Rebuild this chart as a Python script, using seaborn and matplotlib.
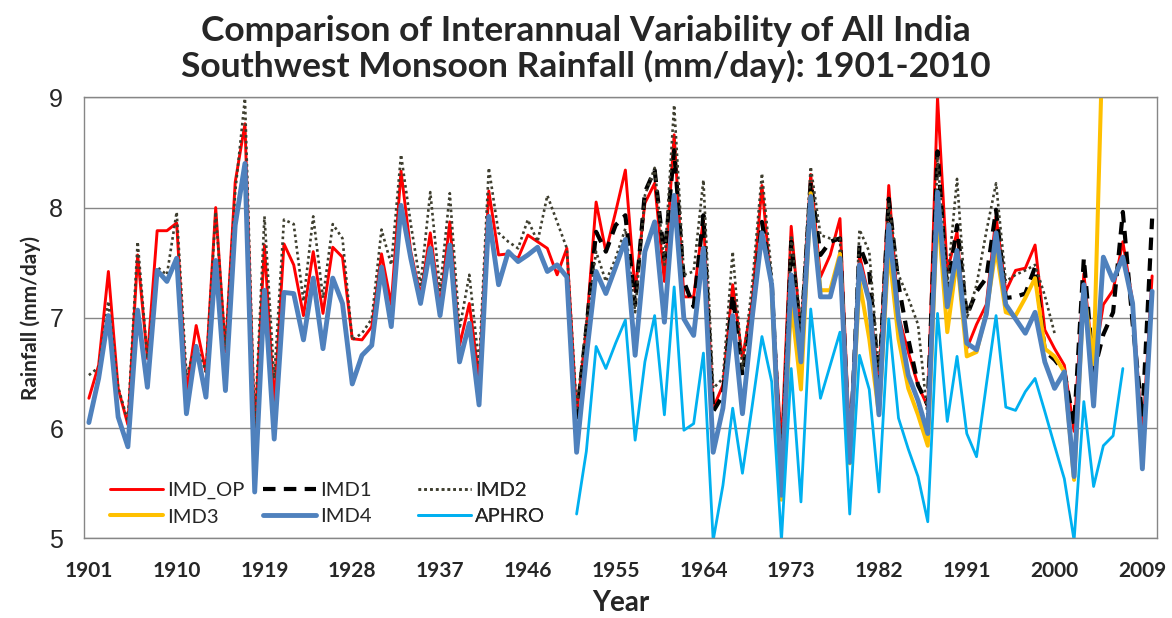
import numpy as np
import pandas as pd
import seaborn as sns
import matplotlib.pyplot as plt
from matplotlib.lines import Line2D

# ---- data (mm/day) ----
years_all = list(range(1901, 2011))

imd_op = [6.27, 6.57, 7.42, 6.36, 6.03, 7.57, 6.63, 7.79, 7.79, 7.86,
          6.33, 6.93, 6.51, 8.00, 6.69, 8.23, 8.76, 5.95, 7.66, 6.21,
          7.67, 7.48, 7.02, 7.60, 7.04, 7.64, 7.55, 6.81, 6.80, 6.92,
          7.58, 7.12, 8.33, 7.60, 7.20, 7.77, 7.10, 7.87, 6.75, 7.13,
          6.45, 8.15, 7.57, 7.58, 7.54, 7.75, 7.69, 7.63, 7.39, 7.63,
          6.12, 6.90, 8.05, 7.60, 7.96, 8.34, 7.24, 8.04, 8.22, 7.33,
          8.66, 7.19, 7.19, 7.90, 6.18, 6.39, 7.30, 6.63, 7.15, 8.20,
          7.24, 5.84, 7.83, 6.84, 8.30, 7.37, 7.57, 7.90, 5.85, 7.57,
          7.18, 6.40, 8.20, 7.02, 6.69, 6.39, 6.19, 9.00, 7.42, 7.78,
          6.72, 6.94, 7.12, 7.92, 7.24, 7.43, 7.45, 7.66, 6.89, 6.72,
          6.57, 5.97, 7.40, 6.56, 7.12, 7.25, 7.69, 7.15, 5.90, 7.38]

imd4 = [6.05, 6.45, 7.02, 6.10, 5.83, 7.07, 6.37, 7.43, 7.33, 7.54,
        6.13, 6.74, 6.28, 7.52, 6.34, 7.84, 8.40, 5.42, 7.25, 5.90,
        7.23, 7.22, 6.80, 7.36, 6.72, 7.36, 7.13, 6.40, 6.66, 6.75,
        7.46, 6.92, 8.02, 7.54, 7.13, 7.63, 7.02, 7.66, 6.60, 6.95,
        6.21, 7.92, 7.30, 7.60, 7.51, 7.57, 7.64, 7.42, 7.48, 7.37,
        5.78, 6.65, 7.42, 7.22, 7.46, 7.71, 6.66, 7.60, 7.87, 6.96,
        8.11, 6.99, 6.84, 7.63, 5.78, 6.18, 7.02, 6.13, 7.00, 7.77,
        7.30, 5.39, 7.39, 6.60, 8.10, 7.19, 7.19, 7.54, 5.69, 7.48,
        7.15, 6.12, 7.84, 6.99, 6.48, 6.25, 5.95, 8.14, 7.10, 7.61,
        6.77, 6.71, 7.03, 7.77, 7.12, 6.99, 6.86, 7.05, 6.60, 6.36,
        6.51, 5.56, 7.30, 6.20, 7.55, 7.34, 7.55, 7.13, 5.63, 7.24]

years_imd2 = list(range(1901, 2001))
imd2 = [6.48, 6.55, 7.15, 6.37, 6.06, 7.69, 6.63, 7.46, 7.39, 7.96,
        6.48, 6.75, 6.51, 7.96, 6.72, 8.14, 8.99, 6.00, 7.92, 6.45,
        7.89, 7.85, 7.15, 7.92, 7.18, 7.85, 7.72, 6.80, 6.86, 6.99,
        7.80, 7.48, 8.48, 7.85, 7.30, 8.14, 7.25, 8.13, 6.90, 7.39,
        6.57, 8.36, 7.77, 7.69, 7.63, 7.89, 7.69, 8.11, 7.87, 7.63,
        6.18, 6.95, 7.60, 7.33, 7.54, 7.81, 7.05, 8.11, 8.36, 7.48,
        8.93, 7.39, 7.42, 8.25, 6.36, 6.45, 7.60, 6.54, 7.30, 8.31,
        7.39, 5.72, 7.75, 6.93, 8.37, 7.75, 7.72, 7.72, 5.72, 7.80,
        7.60, 6.51, 8.05, 7.39, 7.18, 6.94, 6.09, 8.46, 7.30, 8.26,
        6.99, 7.30, 7.78, 8.22, 7.33, 7.39, 7.43, 7.48, 7.20, 6.86]

years_imd1 = list(range(1951, 2011))
imd1 = [6.08, 6.90, 7.78, 7.60, 7.84, 7.93, 7.12, 8.14, 8.34, 7.54,
        8.52, 7.33, 7.10, 7.93, 6.15, 6.30, 7.21, 6.48, 7.02, 7.87,
        7.33, 5.48, 7.69, 6.81, 8.23, 7.57, 7.69, 7.72, 5.69, 7.66,
        7.42, 6.42, 8.08, 7.30, 6.81, 6.39, 6.21, 8.51, 7.24, 7.84,
        7.02, 7.24, 7.36, 7.98, 7.18, 7.19, 7.22, 7.46, 6.70, 6.62,
        6.51, 6.03, 7.54, 6.50, 6.85, 7.05, 7.96, 6.95, 6.10, 7.90]

years_imd3 = list(range(1971, 2006))
imd3 = [7.25, 5.35, 7.15, 6.35, 8.13, 7.25, 7.25, 7.58, 5.68, 7.33,
        6.81, 6.12, 7.63, 6.81, 6.36, 6.12, 5.84, 8.00, 6.87, 7.54,
        6.65, 6.69, 7.05, 7.63, 7.05, 7.02, 7.18, 7.36, 6.72, 6.65,
        6.51, 5.53, 7.25, 6.58, 9.75]

years_aphro = list(range(1951, 2008))
aphro = [5.22, 5.79, 6.74, 6.54, 6.77, 6.98, 5.89, 6.60, 7.02, 6.12,
         7.28, 5.98, 6.04, 6.68, 4.98, 5.48, 6.18, 5.59, 6.20, 6.83,
         6.42, 4.98, 6.54, 5.33, 7.08, 6.27, 6.57, 6.87, 5.22, 6.66,
         6.35, 5.42, 6.99, 6.09, 5.81, 5.56, 5.15, 7.04, 6.06, 6.65,
         5.95, 5.74, 6.39, 7.02, 6.19, 6.16, 6.33, 6.45, 6.15, 5.84,
         5.54, 4.98, 6.24, 5.47, 5.84, 5.93, 6.54]

tick_years = list(range(1901, 2010, 9))

# ---- styling ----
sns.set_style("white")
plt.rcParams['font.family'] = ['Lato', 'DejaVu Sans']

fig = plt.figure(figsize=(11.72, 6.18), dpi=100)
ax = fig.add_axes([84 / 1172, 1 - 538.3 / 618, (1157 - 84) / 1172, (538.3 - 97.3) / 618])

series = [
    ("IMD_OP", years_all, imd_op, dict(color="#FF0000", lw=2.1, ls="-")),
    ("IMD1", years_imd1, imd1, dict(color="#000000", lw=3.0, ls=(0, (3, 2)))),
    ("IMD2", years_imd2, imd2, dict(color="#3F3F30", lw=1.9, ls=(0, (1, 1.2)))),
    ("IMD3", years_imd3, imd3, dict(color="#FFC000", lw=2.9, ls="-")),
    ("IMD4", years_all, imd4, dict(color="#4F81BD", lw=3.5, ls="-")),
    ("APHRO", years_aphro, aphro, dict(color="#00B0F0", lw=2.0, ls="-")),
]

handles = {}
for name, xs, ys, st in series:
    sns.lineplot(x=xs, y=ys, ax=ax, color=st["color"], linewidth=st["lw"],
                 linestyle=st["ls"], sort=False, errorbar=None)
    handles[name] = Line2D([], [], color=st["color"], lw=st["lw"], ls=st["ls"])

ax.set_xlim(1900.5, 2010.5)
ax.set_ylim(5, 9)
ax.set_yticks([5, 6, 7, 8, 9])
ax.set_yticklabels(["5", "6", "7", "8", "9"], fontfamily="Liberation Sans", fontsize=18)
ax.set_xticks(tick_years)
ax.set_xticklabels([str(y) for y in tick_years], fontsize=15, fontweight="bold")
ax.tick_params(axis="y", length=7, width=1, color="#868686", direction="out", pad=8)
ax.tick_params(axis="x", length=0, pad=16)
ax.yaxis.grid(True, color="#868686", lw=1)
ax.xaxis.grid(False)
for sp in ax.spines.values():
    sp.set_color("#868686")
    sp.set_linewidth(1)

ax.set_xlabel("Year", fontsize=20, fontweight="bold", labelpad=7)
ax.set_ylabel("Rainfall (mm/day)", fontsize=15, fontweight="bold", labelpad=6)

fig.text(0.5, 1 - 15 / 618, "Comparison of Interannual Variability of All India\n"
         "Southwest Monsoon Rainfall (mm/day): 1901-2010",
         ha="center", va="top", fontsize=25.5, fontweight="bold", linespacing=1.12)

# legend: three fixed-width columns, two rows each (Excel layout)
columns = [("IMD_OP", "IMD3", 110), ("IMD1", "IMD4", 263), ("IMD2", "APHRO", 418)]
for top, bottom, xpix in columns:
    leg = ax.legend([handles[top], handles[bottom]], [top, bottom], ncol=1,
                    frameon=False, loc="upper left",
                    bbox_to_anchor=(xpix / 1172, 1 - 482 / 618),
                    bbox_transform=fig.transFigure, fontsize=14.5,
                    handlelength=2.65, handletextpad=0.2, labelspacing=0.45,
                    borderpad=0, borderaxespad=0, labelcolor="#262626")
    ax.add_artist(leg)

fig.savefig("out.png", dpi=100, facecolor="white")
